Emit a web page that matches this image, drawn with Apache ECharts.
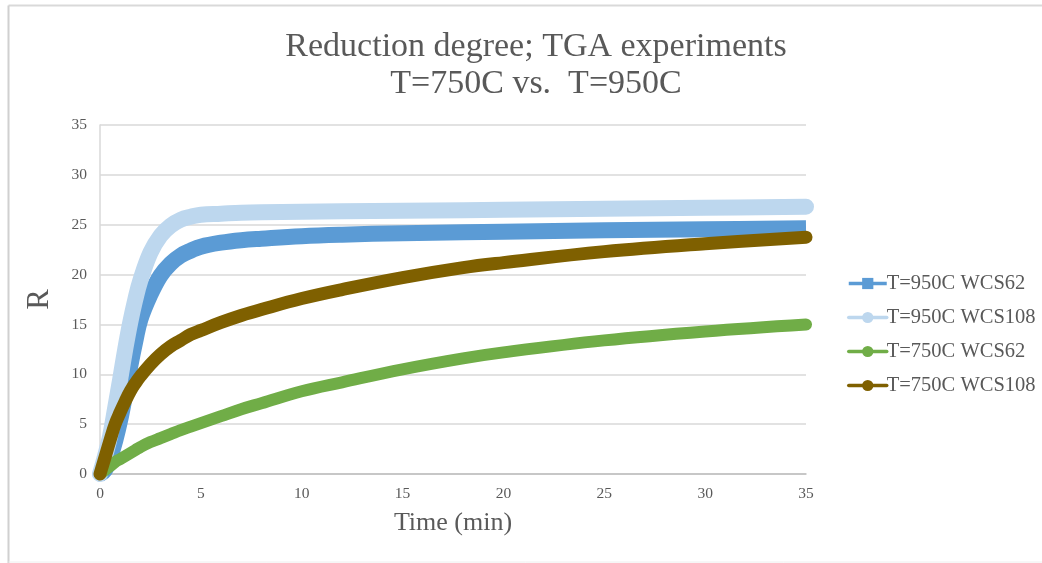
<!DOCTYPE html>
<html>
<head>
<meta charset="utf-8">
<style>
  html, body { margin: 0; padding: 0; background: #fff; }
  #chart { width: 1042px; height: 563px; }
</style>
<script src="https://cdn.jsdelivr.net/npm/echarts@6/dist/echarts.min.js"></script>
</head>
<body>
<div id="chart"></div>
<script>
// Sampling times (min), shared by all four runs
const times = [0, 0.25, 0.5, 0.75, 1, 1.25, 1.5, 1.75, 2, 2.5, 3, 3.5, 4, 4.5, 5, 6, 7, 8, 10, 12, 15, 18, 20, 25, 30, 35];

// Reduction degree R for each run
const r950WCS62  = [0, 0.4, 1.6, 3.3, 5.4, 8.0, 10.8, 13.3, 15.5, 18.0, 19.9, 21.1, 21.9, 22.4, 22.8, 23.2, 23.45, 23.6, 23.85, 24.0, 24.15, 24.25, 24.3, 24.45, 24.55, 24.65];
const r950WCS108 = [0, 1.8, 3.8, 6.6, 9.5, 12.5, 15.2, 17.5, 19.4, 22.2, 23.9, 24.9, 25.5, 25.8, 26.0, 26.1, 26.2, 26.25, 26.3, 26.35, 26.4, 26.45, 26.5, 26.6, 26.7, 26.8];
const r750WCS62  = [0, 0.4, 0.8, 1.2, 1.5, 1.8, 2.1, 2.4, 2.7, 3.2, 3.6, 4.0, 4.4, 4.75, 5.1, 5.8, 6.5, 7.1, 8.3, 9.2, 10.5, 11.6, 12.2, 13.4, 14.3, 15.0];
const r750WCS108 = [0, 1.7, 3.4, 5.0, 6.2, 7.3, 8.3, 9.1, 9.8, 11.0, 12.0, 12.8, 13.4, 14.0, 14.4, 15.2, 15.9, 16.5, 17.6, 18.5, 19.7, 20.7, 21.2, 22.3, 23.1, 23.75];

const seriesNames = ['T=950C WCS62', 'T=950C WCS108', 'T=750C WCS62', 'T=750C WCS108'];
const titleLines = ['Reduction degree; TGA experiments', 'T=750C vs.  T=950C'];
const xAxisTitle = 'Time (min)';
const yAxisTitle = 'R';

const pair = vals => times.map((t, i) => [t, vals[i]]);

const serif = '"Liberation Serif", "Times New Roman", serif';
const textGray = '#595959';

function lineSeries(name, vals, color, width, symbol, cap) {
  return {
    name: name,
    type: 'line',
    data: pair(vals),
    smooth: 0.4,
    symbol: symbol,
    symbolSize: 9,
    showSymbol: false,
    clip: false,
    itemStyle: { color: color },
    lineStyle: { color: color, width: width, cap: cap, join: 'round' }
  };
}

const chart = echarts.init(document.getElementById('chart'), null, { renderer: 'canvas' });

chart.setOption({
  backgroundColor: '#ffffff',
  animation: false,
  title: {
    text: titleLines.join('\n'),
    left: 531,
    textAlign: 'center',
    top: 24,
    textStyle: {
      fontFamily: serif,
      fontSize: 34,
      fontWeight: 'normal',
      color: textGray,
      lineHeight: 37
    }
  },
  graphic: [
    { type: 'line', shape: { x1: 8.5, y1: 5.5, x2: 1042, y2: 5.5 }, style: { stroke: '#d9d9d9', lineWidth: 2 } },
    { type: 'line', shape: { x1: 8.5, y1: 5.5, x2: 8.5, y2: 563 }, style: { stroke: '#d0d0d0', lineWidth: 2 } },
    { type: 'line', shape: { x1: 8.5, y1: 562, x2: 1042, y2: 562 }, style: { stroke: '#eeeeee', lineWidth: 1 } }
  ],
  legend: {
    orient: 'vertical',
    left: 842,
    top: 268,
    itemWidth: 38,
    itemHeight: 14,
    itemGap: 13,
    data: seriesNames,
    lineStyle: { width: 3.5 },
    textStyle: { fontFamily: serif, fontSize: 20.5, color: textGray, padding: [0, 0, 0, -5] }
  },
  grid: { left: 100, right: 236, top: 125, bottom: 89 },
  xAxis: {
    type: 'value',
    min: 0,
    max: 35,
    interval: 5,
    name: xAxisTitle,
    nameLocation: 'middle',
    nameGap: 36,
    nameTextStyle: { fontFamily: serif, fontSize: 26, color: textGray },
    axisLine: { show: true, lineStyle: { color: '#bfbfbf', width: 1.5 } },
    axisTick: { show: false },
    splitLine: { show: false },
    axisLabel: { fontFamily: serif, fontSize: 15.5, color: textGray, margin: 12 }
  },
  yAxis: {
    type: 'value',
    min: 0,
    max: 35,
    interval: 5,
    name: yAxisTitle,
    nameLocation: 'middle',
    nameRotate: 90,
    nameGap: 45,
    nameTextStyle: { fontFamily: serif, fontSize: 31, color: textGray },
    axisLine: { show: true, lineStyle: { color: '#d9d9d9', width: 1.5 } },
    axisTick: { show: false },
    splitLine: { show: true, lineStyle: { color: '#d9d9d9', width: 1.5 } },
    axisLabel: { fontFamily: serif, fontSize: 15.5, color: textGray, margin: 13 }
  },
  series: [
    lineSeries(seriesNames[0], r950WCS62,  '#5b9bd5', 16, 'rect',   'butt'),
    lineSeries(seriesNames[1], r950WCS108, '#bdd7ee', 16, 'circle', 'round'),
    lineSeries(seriesNames[2], r750WCS62,  '#70ad47', 12, 'circle', 'round'),
    lineSeries(seriesNames[3], r750WCS108, '#7f6000', 13, 'circle', 'round')
  ]
});
</script>
</body>
</html>
